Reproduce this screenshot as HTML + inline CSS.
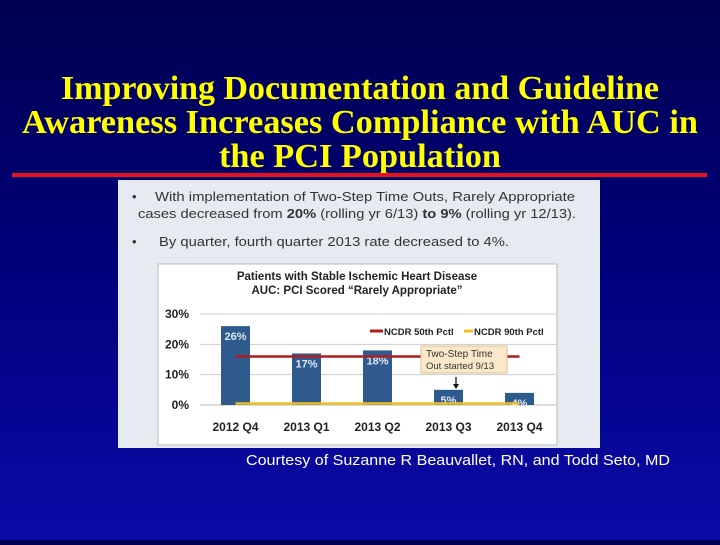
<!DOCTYPE html>
<html><head><meta charset="utf-8"><style>
html,body{margin:0;padding:0}
body{width:720px;height:540px;overflow:hidden;background:linear-gradient(180deg,#000050 0%,#000078 45%,#0a0aa8 100%);font-family:"Liberation Sans",sans-serif}
</style></head><body>
<svg width="720" height="540" xmlns="http://www.w3.org/2000/svg">
<g font-family="Liberation Serif, serif" font-weight="bold" font-size="34" fill="#ffff00" text-anchor="middle">
<text x="360" y="99" textLength="598" lengthAdjust="spacingAndGlyphs">Improving Documentation and Guideline</text>
<text x="360" y="133" textLength="676" lengthAdjust="spacingAndGlyphs">Awareness Increases Compliance with AUC in</text>
<text x="360" y="167" textLength="282" lengthAdjust="spacingAndGlyphs">the PCI Population</text>
</g>
<rect x="12" y="173" width="695" height="4" fill="#e8101c"/>
<rect x="118" y="180" width="482" height="268" fill="#e6ebf2"/>
<g font-size="13" fill="#333">
<text x="132" y="201">•</text><text x="155" y="201" textLength="420" lengthAdjust="spacingAndGlyphs">With implementation of Two-Step Time Outs, Rarely Appropriate</text>
<text x="138" y="218" textLength="438" lengthAdjust="spacingAndGlyphs">cases decreased from <tspan font-weight="bold">20%</tspan> (rolling yr 6/13) <tspan font-weight="bold">to 9%</tspan> (rolling yr 12/13).</text>
<text x="132" y="246">•</text><text x="159" y="246" textLength="350" lengthAdjust="spacingAndGlyphs">By quarter, fourth quarter 2013 rate decreased to 4%.</text>
</g>
<rect x="158" y="264" width="399" height="181" fill="#fff" stroke="#bbb"/>
<g font-size="11.5" font-weight="bold" fill="#222" text-anchor="middle">
<text x="357" y="280">Patients with Stable Ischemic Heart Disease</text>
<text x="357" y="294">AUC: PCI Scored “Rarely Appropriate”</text>
</g>
<g id="chart"></g>
<g font-size="9.5" font-weight="bold" fill="#222">
<line x1="370" y1="331" x2="383" y2="331" stroke="#b01c1c" stroke-width="3"/>
<text x="384" y="335">NCDR 50th Pctl</text>
<line x1="464" y1="331" x2="473" y2="331" stroke="#f0c020" stroke-width="3"/>
<text x="474" y="335">NCDR 90th Pctl</text>
</g>
<g>
<rect x="421" y="346" width="86" height="27" fill="#fbe8c8" stroke="#d9c090"/>
<text x="426" y="357" font-size="10" fill="#333">Two-Step Time</text>
<text x="426" y="369" font-size="9.5" fill="#333">Out started 9/13</text>
<line x1="456" y1="377" x2="456" y2="385" stroke="#111" stroke-width="1.3"/>
<polygon points="453,384 459,384 456,389" fill="#111"/>
</g>
<text x="246" y="465" font-size="15" fill="#ffffff" textLength="424" lengthAdjust="spacingAndGlyphs">Courtesy of Suzanne R Beauvallet, RN, and Todd Seto, MD</text>
</svg>
<script>
const categories=["2012 Q4","2013  Q1","2013 Q2","2013 Q3","2013 Q4"];
const values=[26,17,18,5,4];
const valueLabels=["26%","17%","18%","5%","4%"];
const yTicks=[0,10,20,30];
const ncdr50=16;
const ncdr90=0.5;
const NS="http://www.w3.org/2000/svg";
const g=document.getElementById('chart');
const x0=200,x1=556,yBase=405,yTop=314,yMax=30;
const y=v=>yBase-(v/yMax)*(yBase-yTop);
const step=71,firstC=235.5;
const xc=i=>firstC+i*step;
function mk(t,a){const e=document.createElementNS(NS,t);for(const k in a)e.setAttribute(k,a[k]);g.appendChild(e);return e;}
yTicks.forEach(t=>{
 if(t>0){const l=mk('line',{x1:x0,x2:x1,y1:y(t),y2:y(t),stroke:'#ccc','stroke-width':1});
 
 }
 const tx=mk('text',{x:189,y:y(t)+4,'font-size':12,'font-weight':'bold',fill:'#222','text-anchor':'end'});
 tx.textContent=t+'%';
 
 
});
const ax=mk('line',{x1:x0,x2:x1,y1:yBase,y2:yBase,stroke:'#bbb'});


values.forEach((v,i)=>{
 const b=mk('rect',{x:xc(i)-14.5,y:y(v),width:29,height:yBase-y(v),fill:'#2e5a8e'});
 
 
 const lb=mk('text',{x:xc(i),y:y(v)+14,'font-size':11,'font-weight':'bold',fill:'#dde6f2','text-anchor':'middle'});
 lb.textContent=valueLabels[i];
 
 
 const cl=mk('text',{x:xc(i),y:431,'font-size':12,'font-weight':'bold',fill:'#222','text-anchor':'middle'});
 cl.textContent=categories[i];
 
 
});
const r=mk('line',{x1:xc(0),x2:xc(categories.length-1),y1:y(ncdr50),y2:y(ncdr50),stroke:'#b01c1c','stroke-width':2.5});


const yl=mk('line',{x1:xc(0),x2:xc(categories.length-1),y1:y(ncdr90),y2:y(ncdr90),stroke:'#f0c020','stroke-width':2.5});


</script>
</body></html>
